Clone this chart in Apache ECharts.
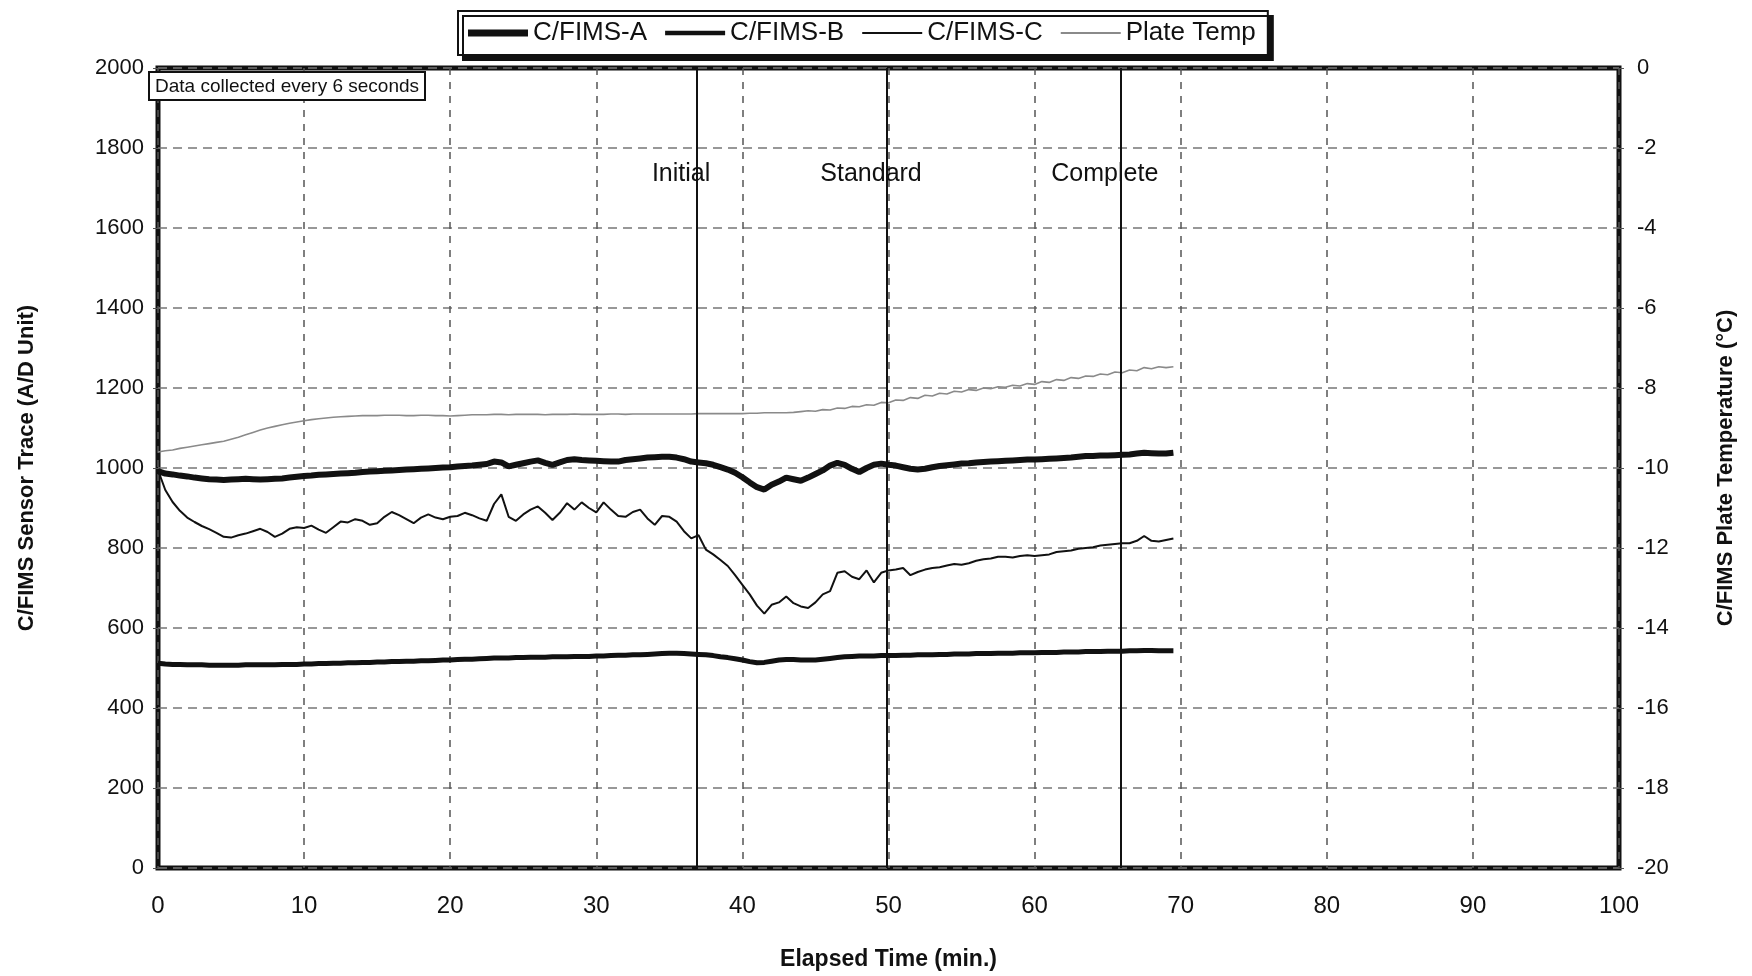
<!DOCTYPE html>
<html>
<head>
<meta charset="utf-8">
<title>C/FIMS Sensor Trace</title>
<script src="https://cdn.jsdelivr.net/npm/echarts@6/dist/echarts.min.js"></script>
<style>
  html, body { margin: 0; padding: 0; background: #fff; }
  #main { width: 1752px; height: 976px; }
</style>
</head>
<body>
<div id="main"></div>
<script>
// elapsed time (min), one reading every 30 s taken off the trace
var minutes = [
  0,0.5,1,1.5,2,2.5,3,3.5,4,4.5,
  5,5.5,6,6.5,7,7.5,8,8.5,9,9.5,
  10,10.5,11,11.5,12,12.5,13,13.5,14,14.5,
  15,15.5,16,16.5,17,17.5,18,18.5,19,19.5,
  20,20.5,21,21.5,22,22.5,23,23.5,24,24.5,
  25,25.5,26,26.5,27,27.5,28,28.5,29,29.5,
  30,30.5,31,31.5,32,32.5,33,33.5,34,34.5,
  35,35.5,36,36.5,37,37.5,38,38.5,39,39.5,
  40,40.5,41,41.5,42,42.5,43,43.5,44,44.5,
  45,45.5,46,46.5,47,47.5,48,48.5,49,49.5,
  50,50.5,51,51.5,52,52.5,53,53.5,54,54.5,
  55,55.5,56,56.5,57,57.5,58,58.5,59,59.5,
  60,60.5,61,61.5,62,62.5,63,63.5,64,64.5,
  65,65.5,66,66.5,67,67.5,68,68.5,69,69.5
];

// C/FIMS-A (A/D units)
var sensorA = [
  992,986,984,981,979,976,974,972,971,970,
  971,972,973,972,971,972,973,974,976,978,
  980,981,983,984,985,986,987,988,990,991,
  992,993,994,995,996,997,998,999,1000,1001,
  1002,1004,1005,1006,1008,1010,1016,1014,1004,1008,
  1012,1016,1019,1013,1008,1014,1020,1022,1020,1019,
  1018,1017,1016,1016,1020,1022,1024,1026,1027,1028,
  1028,1026,1022,1016,1014,1012,1008,1002,996,988,
  977,964,952,946,958,966,976,972,968,976,
  985,994,1006,1013,1008,998,990,1000,1008,1011,
  1008,1006,1002,998,996,998,1002,1005,1007,1009,
  1011,1012,1014,1015,1016,1017,1018,1019,1020,1021,
  1021,1022,1023,1024,1025,1026,1028,1030,1030,1031,
  1031,1032,1033,1034,1036,1038,1037,1036,1036,1038
];

// C/FIMS-B (A/D units)
var sensorB = [
  512,510,509,509,508,508,508,507,507,507,
  507,507,508,508,508,508,508,509,509,509,
  510,510,511,511,512,512,513,513,514,514,
  515,515,516,516,517,517,518,518,519,520,
  520,521,522,522,523,524,525,525,525,526,
  526,527,527,527,528,528,528,529,529,529,
  530,530,531,532,532,533,533,534,535,536,
  537,537,536,535,534,533,531,528,526,523,
  520,516,513,514,517,520,521,521,520,520,
  520,522,524,526,528,529,530,530,530,531,
  531,531,532,532,533,533,533,534,534,535,
  535,535,536,536,536,537,537,537,538,538,
  538,539,539,539,540,540,540,541,541,541,
  542,542,542,543,543,544,544,543,543,543
];

// C/FIMS-C (A/D units)
var sensorC = [
  995,945,915,893,876,865,855,847,838,828,
  826,832,836,842,848,840,828,836,848,852,
  850,856,846,838,852,866,864,872,868,858,
  862,878,890,882,872,862,876,884,876,872,
  878,880,888,882,874,868,910,934,878,868,
  884,896,904,888,870,888,912,896,914,900,
  889,914,896,880,878,890,896,874,858,880,
  878,866,842,824,832,796,784,770,755,732,
  708,684,656,636,658,664,679,662,654,650,
  664,684,692,738,742,728,722,744,714,738,
  744,746,750,732,740,746,750,752,756,760,
  758,762,768,772,774,778,778,776,780,782,
  780,782,784,790,792,794,798,800,802,806,
  808,810,812,812,818,830,818,816,820,824
];

// Plate temperature (°C), right axis
var plateTemp = [
  -9.60,-9.57,-9.55,-9.51,-9.48,-9.45,-9.42,-9.39,-9.36,-9.33,
  -9.28,-9.23,-9.17,-9.11,-9.05,-9.00,-8.96,-8.92,-8.88,-8.85,
  -8.82,-8.79,-8.77,-8.75,-8.73,-8.72,-8.71,-8.70,-8.69,-8.69,
  -8.69,-8.68,-8.68,-8.68,-8.69,-8.69,-8.68,-8.68,-8.69,-8.69,
  -8.70,-8.69,-8.68,-8.67,-8.67,-8.67,-8.66,-8.66,-8.67,-8.66,
  -8.66,-8.66,-8.66,-8.67,-8.66,-8.66,-8.66,-8.65,-8.66,-8.66,
  -8.66,-8.66,-8.65,-8.65,-8.66,-8.65,-8.65,-8.65,-8.65,-8.65,
  -8.65,-8.65,-8.65,-8.65,-8.64,-8.64,-8.64,-8.64,-8.64,-8.64,
  -8.64,-8.63,-8.63,-8.62,-8.62,-8.62,-8.62,-8.61,-8.59,-8.57,
  -8.58,-8.54,-8.55,-8.50,-8.51,-8.46,-8.47,-8.42,-8.43,-8.36,
  -8.37,-8.30,-8.31,-8.24,-8.26,-8.18,-8.20,-8.13,-8.15,-8.08,
  -8.10,-8.04,-8.06,-8.00,-8.02,-7.97,-7.98,-7.93,-7.95,-7.89,
  -7.91,-7.84,-7.86,-7.79,-7.81,-7.74,-7.76,-7.70,-7.71,-7.65,
  -7.67,-7.60,-7.62,-7.55,-7.57,-7.49,-7.52,-7.47,-7.49,-7.47
];

// test phases (vertical markers)
var eventNames = ['Initial', 'Standard', 'Complete'];
var eventTimes = [36.9, 49.9, 65.9];

var seriesNames = ['C/FIMS-A', 'C/FIMS-B', 'C/FIMS-C', 'Plate Temp'];

function pairs(values) {
  return minutes.map(function (t, i) { return [t, values[i]]; });
}

// legend swatch: a plain bar of given thickness
function bar(h) {
  return 'path://M0,0 L60,0 L60,' + h + ' L0,' + h + ' Z';
}

var font = 'Liberation Sans, Arial, Helvetica, sans-serif';
var labelLevel = 1735;   // height of the phase labels (A/D units)

var myChart = echarts.init(document.getElementById('main'));

var option = {
  backgroundColor: '#fff',
  animation: false,
  textStyle: { fontFamily: font, color: '#111' },
  title: {
    text: 'Data collected every 6 seconds',
    left: 149,
    top: 72,
    padding: [5, 6, 4, 6],
    backgroundColor: '#fff',
    borderColor: '#111',
    borderWidth: 2,
    textStyle: { fontSize: 19, fontWeight: 'normal', color: '#111', fontFamily: font }
  },
  legend: {
    data: [
      { name: 'C/FIMS-A', icon: bar(7) },
      { name: 'C/FIMS-B', icon: bar(4.5) },
      { name: 'C/FIMS-C', icon: bar(2) },
      { name: 'Plate Temp', icon: bar(2) }
    ],
    left: 458,
    top: 11,
    padding: [9, 12, 9, 10],
    itemWidth: 60,
    itemHeight: 22,
    itemGap: 18,
    backgroundColor: '#fff',
    borderColor: '#111',
    borderWidth: 2,
    shadowColor: '#111',
    shadowBlur: 0,
    shadowOffsetX: 5,
    shadowOffsetY: 5,
    textStyle: { fontSize: 26, color: '#111', fontFamily: font }
  },
  grid: {
    left: 158,
    right: 133,
    top: 68,
    bottom: 107,
    show: true,
    borderColor: '#111',
    borderWidth: 5,
    backgroundColor: '#fff'
  },
  xAxis: {
    type: 'value',
    min: 0,
    max: 100,
    interval: 10,
    name: 'Elapsed Time (min.)',
    nameLocation: 'middle',
    nameGap: 80,
    nameTextStyle: { fontSize: 23, fontWeight: 'bold', color: '#111' },
    axisLine: { show: false },
    axisTick: { show: false },
    axisLabel: { fontSize: 24, margin: 26, color: '#111' },
    splitLine: { show: true, lineStyle: { type: [7, 7], color: '#555', width: 1.5 } }
  },
  yAxis: [
    {
      type: 'value',
      min: 0,
      max: 2000,
      interval: 200,
      name: 'C/FIMS Sensor Trace (A/D Unit)',
      nameLocation: 'middle',
      nameRotate: 90,
      nameGap: 120,
      nameTextStyle: { fontSize: 22, fontWeight: 'bold', color: '#111' },
      axisLine: { show: false },
      axisTick: { show: true, length: 5, lineStyle: { color: '#555' } },
      axisLabel: {
        fontSize: 22, margin: 14, color: '#111',
        formatter: function (v) { return String(v); }
      },
      splitLine: { show: true, lineStyle: { type: [9, 6], color: '#777', width: 1.5 } }
    },
    {
      type: 'value',
      position: 'right',
      min: -20,
      max: 0,
      interval: 2,
      name: 'C/FIMS Plate Temperature (°C)',
      nameLocation: 'middle',
      nameRotate: 90,
      nameGap: 96,
      nameTextStyle: { fontSize: 22, fontWeight: 'bold', color: '#111' },
      axisLine: { show: false },
      axisTick: { show: true, length: 5, lineStyle: { color: '#555' } },
      axisLabel: {
        fontSize: 22, margin: 18, color: '#111',
        formatter: function (v) { return String(v); }
      },
      splitLine: { show: false }
    }
  ],
  series: [
    {
      name: 'C/FIMS-A',
      type: 'line',
      yAxisIndex: 0,
      symbol: 'none',
      lineStyle: { color: '#111', width: 6 },
      itemStyle: { color: '#111' },
      z: 5,
      data: pairs(sensorA)
    },
    {
      name: 'C/FIMS-B',
      type: 'line',
      yAxisIndex: 0,
      symbol: 'none',
      lineStyle: { color: '#111', width: 5 },
      itemStyle: { color: '#111' },
      z: 5,
      data: pairs(sensorB)
    },
    {
      name: 'C/FIMS-C',
      type: 'line',
      yAxisIndex: 0,
      symbol: 'none',
      lineStyle: { color: '#111', width: 2 },
      itemStyle: { color: '#111' },
      z: 5,
      data: pairs(sensorC)
    },
    {
      name: 'Plate Temp',
      type: 'line',
      yAxisIndex: 1,
      symbol: 'none',
      lineStyle: { color: '#8a8a8a', width: 1.6 },
      itemStyle: { color: '#8a8a8a' },
      z: 4,
      data: pairs(plateTemp)
    },
    {
      name: 'phases',
      type: 'line',
      yAxisIndex: 0,
      data: [],
      silent: true,
      z: 3,
      markLine: {
        silent: true,
        symbol: 'none',
        label: { show: false },
        lineStyle: { color: '#111', width: 2, type: 'solid' },
        data: eventTimes.map(function (t) { return { xAxis: t }; })
      },
      markPoint: {
        silent: true,
        symbol: 'circle',
        symbolSize: 0,
        label: {
          show: true,
          position: 'inside',
          offset: [-16, 0],
          fontSize: 25,
          color: '#111',
          fontFamily: font,
          formatter: function (p) { return p.name; }
        },
        data: eventTimes.map(function (t, i) {
          return { name: eventNames[i], coord: [t, labelLevel] };
        })
      }
    }
  ]
};

myChart.setOption(option);
</script>
</body>
</html>
